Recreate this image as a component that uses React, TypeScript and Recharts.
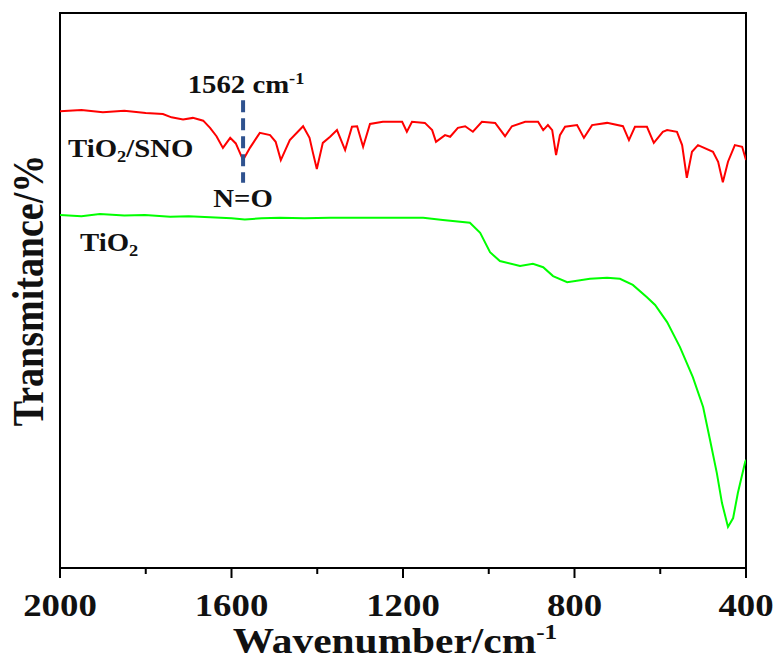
import { Line, LineChart, ReferenceArea, ReferenceLine, XAxis, YAxis } from "recharts";

// TiO2/SNO spectrum (red)
const snoWavenumber = [
  2000, 1950, 1900, 1850, 1800, 1760, 1740, 1713, 1690, 1666, 1650, 1635, 1620, 1603, 1590, 1573, 1557, 1534,
  1510, 1497, 1485, 1464, 1433, 1418, 1410, 1401, 1387, 1370, 1354, 1335, 1319, 1307, 1293, 1277, 1247, 1202,
  1191, 1179, 1149, 1132, 1123, 1102, 1090, 1072, 1055, 1037, 1016, 985, 962, 946, 915, 885, 873, 862, 852, 843,
  834, 822, 794, 778, 759, 724, 687, 673, 659, 631, 615, 594, 584, 561, 549, 538, 526, 512, 477, 465, 454, 442,
  426, 409, 400,
];
const snoTransmittance = [
  82.3, 82.5, 82.1, 82.4, 82.0, 81.8, 81.2, 80.8, 81.1, 80.6, 79.3, 77.8, 75.7, 77.5, 76.5, 73.5, 75.7, 78.4,
  78.0, 76.8, 73.5, 77.1, 79.6, 77.5, 74.8, 71.9, 76.6, 77.7, 78.9, 75.3, 79.5, 79.6, 75.9, 80.0, 80.4, 80.4,
  78.6, 80.4, 80.2, 78.9, 76.8, 78.0, 77.7, 79.3, 79.6, 78.6, 80.4, 80.2, 77.8, 79.6, 80.4, 80.4, 78.9, 79.8,
  78.9, 74.4, 78.0, 79.5, 79.8, 77.5, 79.8, 80.2, 79.6, 77.1, 79.5, 79.5, 76.6, 78.6, 78.9, 78.6, 76.2, 70.3,
  75.0, 76.2, 75.0, 73.2, 69.5, 73.2, 76.2, 75.9, 73.5,
];

// TiO2 spectrum (green)
const tioWavenumber = [
  2000, 1950, 1907, 1850, 1802, 1743, 1700, 1650, 1600, 1569, 1530, 1487, 1430, 1370, 1300, 1207, 1153, 1107,
  1044, 1020, 997, 974, 927, 897, 873, 850, 817, 764, 724, 694, 664, 631, 612, 584, 554, 524, 500, 484, 468,
  456, 442, 430, 419, 402, 400,
];
const tioTransmittance = [
  63.6, 63.4, 63.8, 63.5, 63.6, 63.3, 63.4, 63.2, 63.0, 62.8, 63.0, 63.1, 63.0, 63.1, 63.1, 63.1, 63.1, 62.7,
  62.2, 60.4, 56.9, 55.3, 54.4, 54.8, 54.2, 52.6, 51.5, 52.1, 52.3, 52.1, 51.0, 48.8, 47.4, 44.3, 39.8, 34.4,
  29.0, 23.1, 17.1, 11.7, 7.4, 9.0, 13.5, 19.1, 19.5,
];

const majorTicks = [2000, 1600, 1200, 800, 400];
const allTicks = [2000, 1800, 1600, 1400, 1200, 1000, 800, 600, 400];
const peakPosition = 1573;
const peakText = "1562 cm";

const snoData = snoWavenumber.map((w, i) => ({ w, t: snoTransmittance[i] }));
const tioData = tioWavenumber.map((w, i) => ({ w, t: tioTransmittance[i] }));

const FONT = "Liberation Serif";
const SX = 1.15; // the figure's text is a little stretched sideways

function XTick(props: any) {
  const { x, y, payload } = props;
  const major = majorTicks.includes(payload.value);
  return (
    <g>
      <line x1={x} x2={x} y1={y} y2={y + (major ? 10 : 6)} stroke="#000" strokeWidth={2} />
      {major && (
        <text
          transform={`translate(${x},${y + 48}) scale(${SX},1)`}
          textAnchor="middle"
          fontFamily={FONT}
          fontWeight="bold"
          fontSize={32}
          fill="#111"
        >
          {payload.value}
        </text>
      )}
    </g>
  );
}

function XTitle(props: any) {
  const { x, y, width } = props.viewBox;
  return (
    <text
      transform={`translate(${x + width / 2 - 8},${y + 85}) scale(${SX},1)`}
      textAnchor="middle"
      fontFamily={FONT}
      fontWeight="bold"
      fontSize={36}
      fill="#111"
    >
      Wavenumber/cm
      <tspan fontSize={22} dy={-14}>-1</tspan>
    </text>
  );
}

function PeakLabels(props: any) {
  const { x, y, height } = props.viewBox;
  return (
    <g fontFamily={FONT} fontWeight="bold" fill="#111">
      <text transform={`translate(${x + 3},${y - 7}) scale(${SX},1)`} textAnchor="middle" fontSize={25}>
        {peakText}
        <tspan fontSize={16} dy={-9}>-1</tspan>
      </text>
      <text transform={`translate(${x},${y + height + 24}) scale(${SX},1)`} textAnchor="middle" fontSize={25}>
        N=O
      </text>
    </g>
  );
}

// series names and the y title, placed relative to the plot frame
function FrameLabels(props: any) {
  const { x, y, height } = props.viewBox;
  return (
    <g fontFamily={FONT} fontWeight="bold" fill="#111">
      <text transform={`translate(${x + 8},157) scale(${SX},1)`} fontSize={25}>
        TiO<tspan fontSize={16} dy={5}>2</tspan>
        <tspan dy={-5}>/SNO</tspan>
      </text>
      <text transform={`translate(${x + 20},251) scale(${SX},1)`} fontSize={25}>
        TiO<tspan fontSize={16} dy={5}>2</tspan>
      </text>
      <text
        transform={`translate(${x - 17},${y + height / 2}) scale(${SX},1) rotate(-90)`}
        textAnchor="middle"
        fontSize={38}
      >
        Transmitance/%
      </text>
    </g>
  );
}

export default function App() {
  return (
    <div style={{ position: "absolute", left: 0, top: 0, width: 777, height: 664, background: "#fff" }}>
      <LineChart width={777} height={664} margin={{ top: 13, right: 31, bottom: 0, left: 60 }}>
        <XAxis
          dataKey="w"
          type="number"
          domain={[400, 2000]}
          reversed
          ticks={allTicks}
          interval={0}
          tick={<XTick />}
          tickLine={false}
          axisLine={false}
          tickSize={0}
          tickMargin={0}
          height={96}
          allowDataOverflow
          label={<XTitle />}
        />
        <YAxis hide domain={[0, 100]} type="number" />
        <ReferenceArea
          x1={2000}
          x2={400}
          y1={0}
          y2={100}
          fill="none"
          stroke="#000"
          strokeWidth={2}
          fillOpacity={0}
          label={<FrameLabels />}
        />
        <Line data={snoData} dataKey="t" stroke="#ff0000" strokeWidth={2} dot={false} type="linear" isAnimationActive={false} />
        <Line data={tioData} dataKey="t" stroke="#00ff00" strokeWidth={2} dot={false} type="linear" isAnimationActive={false} />
        <ReferenceLine
          segment={[
            { x: peakPosition, y: 84.3 },
            { x: peakPosition, y: 69.4 },
          ]}
          stroke="#2f528f"
          strokeWidth={4}
          strokeDasharray="12 6"
          label={<PeakLabels />}
        />
      </LineChart>
    </div>
  );
}
